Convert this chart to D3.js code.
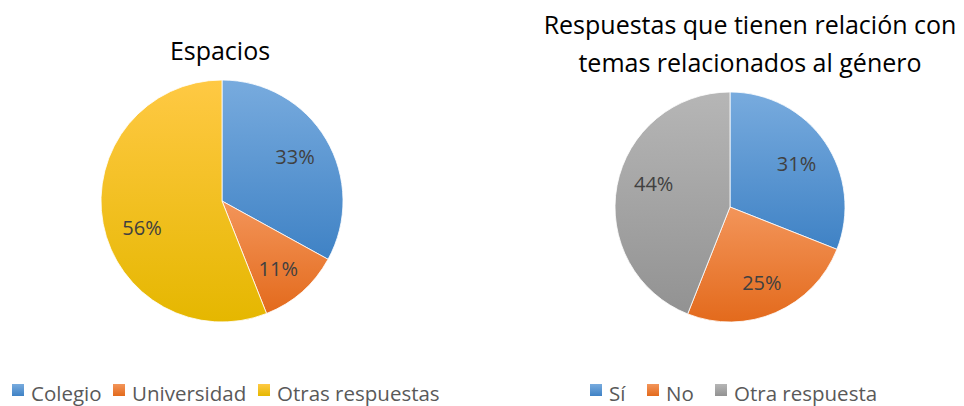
<!DOCTYPE html>
<html><head><meta charset="utf-8">
<script src="https://cdn.jsdelivr.net/npm/d3@7"></script>
<style>body{margin:0;background:#fff}svg{display:block}</style>
</head><body>
<svg id="c" width="964" height="406"></svg>
<script>
const leftCategories = ["Colegio", "Universidad", "Otras respuestas"];
const leftValues = [33, 11, 56];
const rightCategories = ["Sí", "No", "Otra respuesta"];
const rightValues = [31, 25, 44];
const leftTitle = ["Espacios"];
const rightTitle = ["Respuestas que tienen relación con", "temas relacionados al género"];

const FONT = "'Open Sans', sans-serif";
const colors = {
  blue: ["#78abde", "#3f82c5"],
  orange: ["#f3955a", "#e36a1c"],
  yellow: ["#ffc944", "#e5b700"],
  gray: ["#b6b6b6", "#929292"]
};
const svg = d3.select("#c");
const defs = svg.append("defs");
Object.entries(colors).forEach(([k, [a, b]]) => {
  const g = defs.append("linearGradient").attr("id", "g-" + k)
    .attr("x1", 0).attr("y1", 0).attr("x2", 0).attr("y2", 1);
  g.append("stop").attr("offset", "0%").attr("stop-color", a);
  g.append("stop").attr("offset", "100%").attr("stop-color", b);
});

function drawPie(cfg) {
  const data = cfg.categories.map((c, i) => ({cat: c, value: cfg.values[i], col: cfg.cols[i], i}));
  const pie = d3.pie().sort(null).value(d => d.value);
  const arc = d3.arc().innerRadius(0).outerRadius(cfg.r);
  const lab = d3.arc().innerRadius(cfg.r * cfg.lf).outerRadius(cfg.r * cfg.lf);
  const g = svg.append("g").attr("transform", `translate(${cfg.cx},${cfg.cy})`);
  const arcs = pie(data);
  g.selectAll("path").data(arcs).join("path")
    .attr("d", arc).attr("fill", d => `url(#g-${d.data.col})`)
    .attr("stroke", "#fff").attr("stroke-width", 0.8);
  g.selectAll("text").data(arcs).join("text")
    .attr("transform", d => {
      const [x, y] = lab.centroid(d);
      const [ox, oy] = cfg.nudge[d.data.i];
      return `translate(${x + ox},${y + oy})`;
    })
    .attr("text-anchor", "middle").attr("dy", "0.35em")
    .attr("font-family", FONT).attr("font-size", 20).attr("fill", "#404040")
    .text(d => d.data.value + "%");
  const t = svg.append("text").attr("text-anchor", "middle")
    .attr("font-family", FONT).attr("font-size", cfg.tsize).attr("fill", "#000");
  cfg.title.forEach((line, i) => {
    t.append("tspan").attr("x", cfg.tx).attr("y", cfg.ty + i * cfg.tlh).text(line);
  });
  const lg = svg.append("g");
  data.forEach((d, i) => {
    const x = cfg.legX[i];
    lg.append("rect").attr("x", x).attr("y", 384).attr("width", 12).attr("height", 12)
      .attr("fill", `url(#g-${d.col})`);
    lg.append("text").attr("x", x + 19).attr("y", 401)
      .attr("font-family", FONT).attr("font-size", 20.5).attr("fill", "#595959")
      .text(d.cat);
  });
}

drawPie({categories: leftCategories, values: leftValues, cols: ["blue", "orange", "yellow"],
  cx: 222, cy: 201, r: 121, lf: 0.74, nudge: [[-4, 2], [-3, 1], [8, 10]],
  title: leftTitle, tx: 220, ty: 60, tsize: 25, tlh: 0,
  legX: [12, 113, 258]});
drawPie({categories: rightCategories, values: rightValues, cols: ["blue", "orange", "gray"],
  cx: 730, cy: 207, r: 115, lf: 0.72, nudge: [[-2, 4], [-1, 0], [5, -7]],
  title: rightTitle, tx: 750, ty: 34, tsize: 25, tlh: 38,
  legX: [590, 647, 715]});
</script>
</body></html>
